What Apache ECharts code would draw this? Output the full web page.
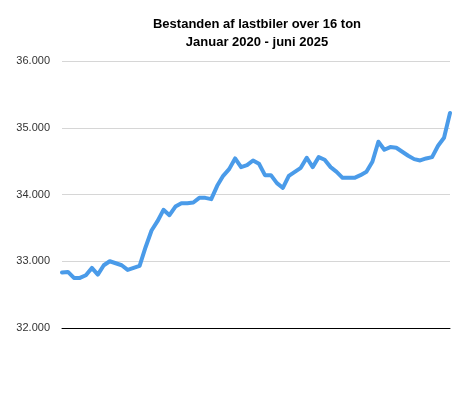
<!DOCTYPE html>
<html>
<head>
<meta charset="utf-8">
<script src="https://cdn.jsdelivr.net/npm/echarts@6/dist/echarts.min.js"></script>
<style>html,body{margin:0;padding:0;background:#fff}#c{width:468px;height:395px}</style>
</head>
<body>
<div id="c"></div>
<script>
const titleLines = ['Bestanden af lastbiler over 16 ton', 'Januar 2020 - juni 2025'];
const years = ['2020','2021','2022','2023','2024','2025'];
const months = ['jan','feb','mar','apr','maj','jun','jul','aug','sep','okt','nov','dec'];
const categories = [];
years.forEach(y => months.forEach((m, i) => { if (y !== '2025' || i < 6) categories.push(m + ' ' + y); }));
const values = [
  32830, 32840, 32750, 32750, 32790, 32900, 32800, 32940, 33000, 32970, 32940, 32870,
  32900, 32930, 33210, 33460, 33600, 33770, 33690, 33820, 33870, 33870, 33880, 33950,
  33950, 33930, 34130, 34280, 34380, 34540, 34410, 34440, 34510, 34460, 34290, 34290,
  34170, 34100, 34280, 34340, 34400, 34550, 34410, 34560, 34520, 34410, 34340, 34250,
  34250, 34250, 34290, 34340, 34490, 34790, 34670, 34710, 34700, 34640, 34580, 34530,
  34510, 34540, 34560, 34730, 34850, 35220
];
const yTicks = { min: 32000, max: 36000, interval: 1000 };

const chart = echarts.init(document.getElementById('c'), null, { renderer: 'canvas' });
chart.setOption({
  animation: false,
  backgroundColor: '#ffffff',
  title: {
    text: titleLines.join('\n'),
    left: 252, top: 10, textAlign: 'center',
    textStyle: { fontFamily: 'Liberation Sans, Arial, sans-serif', fontSize: 13, fontWeight: 'bold', color: '#000', lineHeight: 18 }
  },
  grid: { left: 62, right: 18, top: 61, bottom: 67, containLabel: false },
  xAxis: {
    type: 'category', data: categories, boundaryGap: false,
    axisLine: { show: true, lineStyle: { color: '#000', width: 1 } },
    axisTick: { show: false }, axisLabel: { show: false }, splitLine: { show: false }
  },
  yAxis: {
    type: 'value', min: yTicks.min, max: yTicks.max, interval: yTicks.interval,
    axisLine: { show: false }, axisTick: { show: false },
    splitLine: { lineStyle: { color: '#d6d6d6', width: 1 } },
    axisLabel: {
      margin: 12, color: '#333', fontSize: 11, fontFamily: 'Liberation Sans, Arial, sans-serif',
      formatter: v => v.toString().replace(/\B(?=(\d{3})+(?!\d))/g, '.')
    }
  },
  series: [{
    type: 'line', data: values, showSymbol: false, smooth: false,
    lineStyle: { color: '#4A9BE9', width: 4, cap: 'round', join: 'round' }
  }]
});
</script>
</body>
</html>
